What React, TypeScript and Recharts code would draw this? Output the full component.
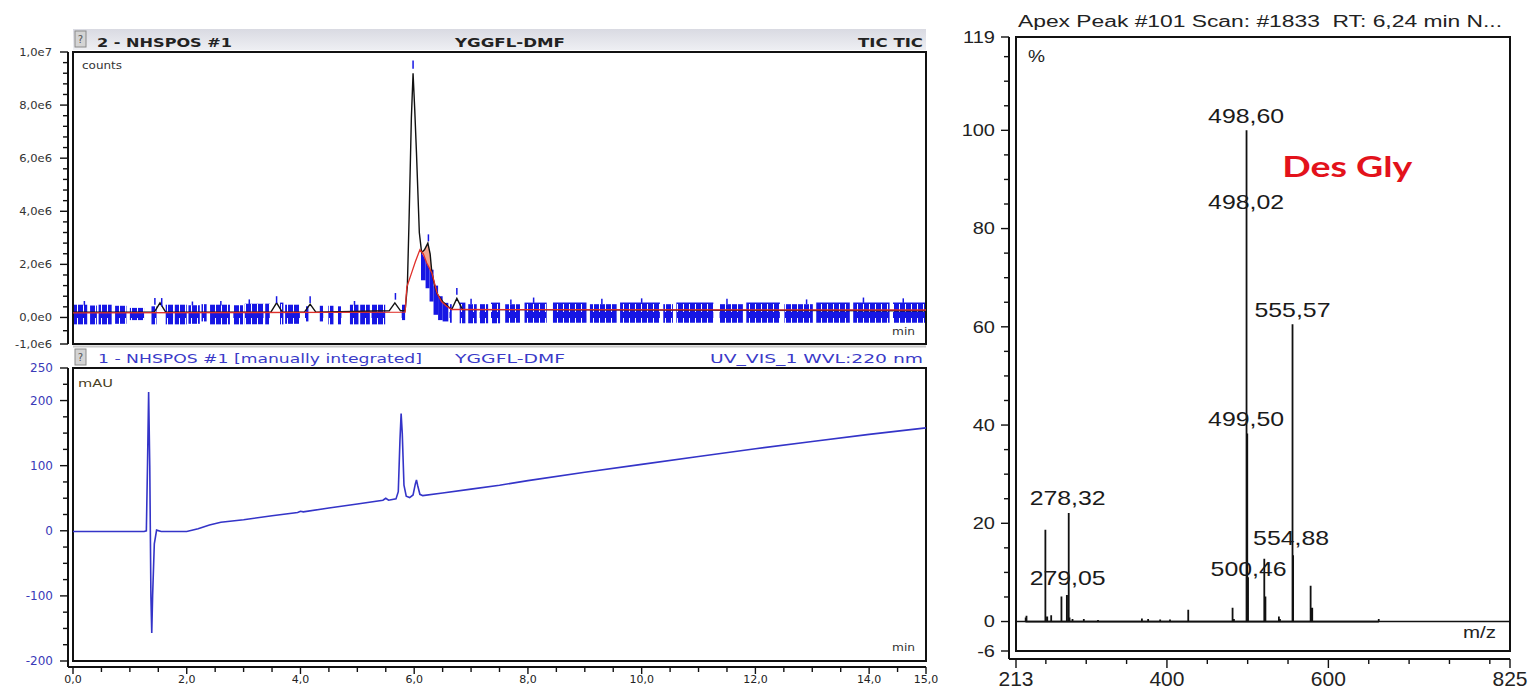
import React from "react";
import {
  ComposedChart,
  Line,
  Area,
  Scatter,
  XAxis,
  YAxis,
  ReferenceArea,
  ReferenceLine,
} from "recharts";

// ---------- TIC panel (top left), time in min, counts ----------
const ticTime = [0, 1.43, 1.53, 1.63, 3.48, 3.58, 3.68, 4.07, 4.17, 4.27, 5.56, 5.66, 5.76, 5.84, 5.88, 5.91, 5.95, 5.98, 6.01, 6.04, 6.09, 6.13, 6.18, 6.24, 6.28, 6.31, 6.36, 6.4, 6.5, 6.6, 6.66, 6.75, 6.85, 15];
const ticCounts = [0.2, 0.2, 0.55, 0.2, 0.2, 0.55, 0.2, 0.2, 0.5, 0.2, 0.25, 0.55, 0.25, 0.25, 1.2, 3.7, 7.5, 9.2, 7.8, 6.2, 3.2, 2.45, 2.55, 2.8, 2.4, 1.7, 1.2, 0.9, 0.6, 0.4, 0.3, 0.72, 0.3, 0.25];

// red integration baseline / fitted peak
const redTime = [0, 5.84, 5.87, 5.95, 6.02, 6.1, 6.16, 6.22, 6.31, 6.4, 6.48, 6.57, 6.66, 15];
const redCounts = [0.17, 0.2, 1.15, 1.65, 2.1, 2.55, 2.4, 2.05, 1.68, 0.93, 0.6, 0.42, 0.3, 0.28];

// salmon filled area between red and black
const fillTime = [6.13, 6.18, 6.24, 6.28, 6.31, 6.34];
const fillLow = [2.42, 2.25, 1.95, 1.8, 1.68, 1.45];
const fillHigh = [2.45, 2.55, 2.8, 2.4, 1.7, 1.45];

// blue noise / integration marker blocks: [start, end, low, high] (x1e6 counts)
const noiseBlocks: [number, number, number, number][] = [
  [0.0, 0.25, -0.26, 0.48], [0.3, 0.42, -0.26, 0.45], [0.45, 0.68, -0.26, 0.48],
  [0.74, 0.94, -0.24, 0.44], [1.0, 1.25, -0.1, 0.36], [1.38, 1.47, -0.26, 0.42],
  [1.63, 1.76, -0.26, 0.48], [1.79, 2.0, -0.26, 0.48], [2.03, 2.23, -0.24, 0.46],
  [2.26, 2.35, -0.15, 0.5], [2.41, 2.76, -0.26, 0.48], [2.82, 2.99, -0.26, 0.46],
  [3.02, 3.35, -0.26, 0.52], [3.38, 3.46, -0.26, 0.52], [3.64, 3.7, -0.26, 0.56],
  [3.73, 3.99, -0.24, 0.48], [4.08, 4.14, -0.15, 0.42], [4.34, 4.4, -0.15, 0.44],
  [4.49, 4.58, -0.26, 0.44], [4.66, 4.72, -0.26, 0.42], [4.87, 5.02, -0.26, 0.48],
  [5.05, 5.22, -0.26, 0.48], [5.25, 5.49, -0.26, 0.48], [5.78, 5.84, -0.1, 0.48],
  [6.62, 6.66, -0.2, 0.5],
  [6.8, 6.9, -0.22, 0.56], [6.95, 7.1, -0.22, 0.5], [7.15, 7.3, -0.22, 0.5],
  [7.35, 7.51, -0.22, 0.56], [7.6, 7.86, -0.2, 0.5], [7.94, 8.33, -0.2, 0.56],
  [8.44, 9.03, -0.2, 0.56], [9.09, 9.56, -0.2, 0.5], [9.62, 10.32, -0.2, 0.56],
  [10.38, 10.55, -0.2, 0.5], [10.61, 11.26, -0.2, 0.56], [11.37, 11.78, -0.2, 0.5],
  [11.84, 12.43, -0.2, 0.56], [12.51, 13.01, -0.2, 0.5], [13.07, 13.66, -0.2, 0.56],
  [13.72, 14.36, -0.2, 0.56], [14.42, 15.0, -0.2, 0.56],
];

// solid blue markers along the decaying tail of the main peak: [start, end, low, high]
const tailBlocks: [number, number, number, number][] = [
  [6.12, 6.2, 1.4, 2.5], [6.2, 6.27, 1.1, 2.3], [6.27, 6.34, 0.6, 1.8],
  [6.34, 6.42, 0.1, 1.2], [6.42, 6.5, -0.1, 0.8], [6.5, 6.6, -0.15, 0.55],
];

// blue peak marker ticks: [time, from, to] (x1e6 counts)
const peakMarks: [number, number, number][] = [
  [1.44, 0.48, 0.73], [1.56, 0.42, 0.73], [3.58, 0.54, 0.8], [4.17, 0.54, 0.8],
  [5.67, 0.67, 0.92], [5.98, 9.37, 9.68], [6.25, 2.87, 3.13], [6.75, 0.86, 1.11],
  [0.2, 0.45, 0.62], [2.1, 0.45, 0.6], [2.6, 0.45, 0.62], [3.1, 0.5, 0.68],
  [4.95, 0.45, 0.62], [7.0, 0.5, 0.7], [7.7, 0.5, 0.68], [8.1, 0.55, 0.75],
  [9.3, 0.5, 0.7], [10.0, 0.55, 0.72], [11.5, 0.5, 0.7], [12.9, 0.5, 0.68],
  [13.9, 0.55, 0.75], [14.6, 0.55, 0.72],
];

const ticMajor = [1e7, 8e6, 6e6, 4e6, 2e6, 0, -1e6];
const ticMajorLabels = ["1,0e7", "8,0e6", "6,0e6", "4,0e6", "2,0e6", "0,0e0", "-1,0e6"];

// ---------- UV panel (bottom left), time in min, mAU ----------
const uvTime = [0, 0.5, 1.0, 1.25, 1.29, 1.31, 1.33, 1.35, 1.36, 1.37, 1.385, 1.4, 1.43, 1.47, 1.55, 1.8, 2.0, 2.2, 2.4, 2.6, 3.0, 3.5, 3.95, 4.0, 4.05, 4.5, 5.0, 5.45, 5.5, 5.55, 5.68, 5.72, 5.75, 5.77, 5.79, 5.82, 5.86, 5.92, 5.98, 6.02, 6.04, 6.06, 6.1, 6.15, 6.5, 7.0, 7.5, 8.0, 9.0, 10.0, 11.0, 12.0, 13.0, 14.0, 15.0];
const uvMAU = [-1, -1, -1, -1, 0, 100, 213, 100, 0, -100, -157, -100, -20, 1, -1, -1, -1, 3, 9, 13, 17, 23, 28, 30, 29, 35, 41, 47, 50, 47, 49, 60, 140, 180, 150, 70, 53, 51, 55, 72, 78, 70, 56, 54, 58, 64, 70, 77, 90, 102, 114, 126, 137, 148, 158];

const uvMajor = [250, 200, 100, 0, -100, -200];
const timeMajor = [0, 2, 4, 6, 8, 10, 12, 14, 15];

// ---------- MS spectrum (right) ----------
const msMz = [225, 226, 249.4, 251.7, 256.6, 269.3, 276.0, 278.32, 279.3, 283, 297, 314.6, 369, 376.7, 391.6, 403.8, 426.4, 481.3, 483, 498.6, 499.5, 500.46, 520.6, 522, 538.7, 540, 555.57, 556.3, 578, 580, 662.4];
const msIntensity = [0.8, 1.2, 18.7, 1.0, 1.3, 5.1, 5.4, 22.1, 0.8, 0.5, 0.5, 0.3, 0.6, 0.5, 0.4, 0.4, 2.4, 2.8, 0.5, 100, 38.3, 9, 12.8, 5.1, 1.0, 0.5, 60.5, 13.5, 7.3, 2.8, 0.5];

const msLabelText = ["498,60", "498,02", "555,57", "499,50", "278,32", "279,05", "554,88", "500,46"];
const msLabelMz = [498.1, 498.1, 555.5, 498.1, 277, 277, 553.8, 501.2];
const msLabelY = [103, 85.5, 63.6, 41.4, 25.2, 8.9, 17.1, 10.8];

const msXTicks = [213, 250, 300, 350, 400, 450, 500, 550, 600, 650, 700, 750, 800, 825];
const msXLabeled = [213, 400, 600, 825];
const msYMajor = [119, 100, 80, 60, 40, 20, 0, -6];

const steps = (a: number, b: number, s: number) => {
  const out: number[] = [];
  const n = Math.round((b - a) / s);
  for (let k = 0; k <= n; k++) out.push(Math.round((a + k * s) * 1000) / 1000);
  return out;
};

const ticData = ticTime.map((t, i) => ({ t, c: ticCounts[i] * 1e6 }));
const redData = redTime.map((t, i) => ({ t, c: redCounts[i] * 1e6 }));
const fillData = fillTime.map((t, i) => ({ t, r: [fillLow[i] * 1e6, fillHigh[i] * 1e6] }));
const uvData = uvTime.map((t, i) => ({ t, v: uvMAU[i] }));
// stick spectrum: each peak is drawn up from and back to the baseline
const msSticks = msMz.flatMap((mz, i) => [
  { mz, v: 0 },
  { mz, v: msIntensity[i] },
  { mz, v: 0 },
]);
const msLabelData = msLabelText.map((label, i) => ({ mz: msLabelMz[i], v: msLabelY[i], label }));
const desGlyData = [{ mz: 623.4, v: 92.7, label: "Des Gly" }];

const ticYTicks = [-1e6, -5e5, ...steps(0, 1e7, 4e5)];
const uvYTicks = steps(-200, 250, 25);
const timeTicks = steps(0, 15, 0.5);
const msYTicks = [-6, ...steps(0, 115, 5), 119];

const ticLabelMap = new Map(ticMajor.map((v, i) => [v, ticMajorLabels[i]]));
const uvLabelMap = new Map(uvMajor.map((v) => [v, String(v)]));
const timeLabelMap = new Map(timeMajor.map((v) => [v, v.toFixed(1).replace(".", ",")]));
const msYLabelMap = new Map(msYMajor.map((v) => [v, String(v)]));
const msXLabelMap = new Map(msXLabeled.map((v) => [v, String(v)]));

const LEFT_FONT = "'DejaVu Sans', sans-serif";
const MS_FONT = "'Liberation Sans', Arial, sans-serif";

// tick for a left axis: line outward + optional label
function LeftTick(props: any) {
  const { x, y, payload, labels, color, size, family, gap, sx } = props;
  const lab = labels.get(payload.value);
  const len = lab !== undefined ? 8 : 5;
  return (
    <g>
      <line x1={x} y1={y} x2={x - len} y2={y} stroke="#111" strokeWidth={1.4} />
      {lab !== undefined && (
        <text
          transform={`translate(${x - gap},${y}) scale(${sx},1)`}
          dy="0.36em"
          textAnchor="end"
          fontSize={size}
          fill={color}
          fontFamily={family}>
          {lab}
        </text>
      )}
    </g>
  );
}

// tick for a bottom axis
function BottomTick(props: any) {
  const { x, y, payload, labels, color, size, family, gap, longLen, shortLen } = props;
  const lab = labels.get(payload.value);
  const len = lab !== undefined ? longLen : shortLen;
  return (
    <g>
      <line x1={x} y1={y} x2={x} y2={y + len} stroke="#111" strokeWidth={1.4} />
      {lab !== undefined && (
        <text x={x} y={y + gap} textAnchor="middle" fontSize={size} fill={color} fontFamily={family}>
          {lab}
        </text>
      )}
    </g>
  );
}

function StretchText(props: any) {
  const { x, y, w, size, weight, fill, family, anchor, children } = props;
  return (
    <text
      x={x}
      y={y}
      fontSize={size}
      fontWeight={weight || "normal"}
      fill={fill}
      fontFamily={family || LEFT_FONT}
      textAnchor={anchor || "start"}
      textLength={w}
      lengthAdjust="spacingAndGlyphs"
      style={{ whiteSpace: "pre" }}>
      {children}
    </text>
  );
}

const renderPeakLabel = (p: any) => (
  <text
    x={p.cx}
    y={p.cy}
    dy="0.36em"
    textAnchor="middle"
    fontSize={21}
    fill="#1a1a1a"
    fontFamily={MS_FONT}
    textLength={76}
    lengthAdjust="spacingAndGlyphs">
    {p.payload.label}
  </text>
);

const renderDesGly = (p: any) => (
  <text
    x={p.cx}
    y={p.cy}
    dy="0.36em"
    textAnchor="middle"
    fontSize={29}
    fontWeight="bold"
    fill="#e3121b"
    fontFamily="Lato, 'Open Sans', sans-serif"
    textLength={130}
    lengthAdjust="spacingAndGlyphs">
    {p.payload.label}
  </text>
);

const BLUE = "#1616e4";

export default function App() {
  return (
    <div
      style={{
        position: "absolute",
        left: 0,
        top: 0,
        width: 1531,
        height: 690,
        background: "#fff",
        overflow: "hidden",
      }}>
      {/* shared pattern: dense blue comb used for the noise band */}
      <svg width={0} height={0} style={{ position: "absolute" }}>
        <defs>
          <pattern id="comb" x="0" y="0" width="6" height="14" patternUnits="userSpaceOnUse">
            <rect x="0" y="0" width="6" height="14" fill="#ffffff" />
            <rect x="0" y="0" width="5" height="14" fill={BLUE} />
            <rect x="5" y="4" width="1" height="6" fill={BLUE} />
          </pattern>
        </defs>
      </svg>

      {/* TIC panel */}
      <div style={{ position: "absolute", left: 0, top: 0 }}>
        <ComposedChart width={940} height={352} data={ticData} margin={{ top: 52, right: 14, bottom: 8, left: 0 }}>
          <XAxis dataKey="t" type="number" domain={[0, 15]} allowDataOverflow hide height={0} padding={{ left: 5, right: 0 }} />
          <YAxis
            type="number"
            domain={[-1e6, 1e7]}
            allowDataOverflow
            width={68}
            ticks={ticYTicks}
            interval={0}
            tickSize={0}
            tickMargin={0}
            tickLine={false}
            axisLine={{ stroke: "#111", strokeWidth: 2 }}
            tick={<LeftTick labels={ticLabelMap} color="#333" size={11} family={LEFT_FONT} gap={16} sx={1.05} />}
          />
          {noiseBlocks.map(([a, b, lo, hi], i) => (
            <ReferenceArea key={`nb-${i}`} x1={a} x2={b} y1={lo * 1e6} y2={hi * 1e6} fill="url(#comb)" fillOpacity={1} stroke="none" />
          ))}
          {tailBlocks.map(([a, b, lo, hi], i) => (
            <ReferenceArea key={`tb-${i}`} x1={a} x2={b} y1={lo * 1e6} y2={hi * 1e6} fill={BLUE} fillOpacity={1} stroke="none" />
          ))}
          <Area data={fillData} dataKey="r" type="linear" stroke="none" fill="#f2a58e" fillOpacity={1} isAnimationActive={false} />
          <Line data={ticData} dataKey="c" type="linear" stroke="#111" strokeWidth={1.4} dot={false} activeDot={false} isAnimationActive={false} />
          <Line data={redData} dataKey="c" type="linear" stroke="#e0302a" strokeWidth={1.3} dot={false} activeDot={false} isAnimationActive={false} />
          {peakMarks.map(([t, a, b], i) => (
            <ReferenceLine key={`pm-${i}`} segment={[{ x: t, y: a * 1e6 }, { x: t, y: b * 1e6 }]} stroke={BLUE} strokeWidth={1.5} />
          ))}
          <ReferenceArea x1={0} x2={15} y1={-1e6} y2={1e7} fill="none" stroke="#111" strokeWidth={2} />
        </ComposedChart>
      </div>

      {/* UV panel */}
      <div style={{ position: "absolute", left: 0, top: 346 }}>
        <ComposedChart width={940} height={344} data={uvData} margin={{ top: 22, right: 14, bottom: 0, left: 0 }}>
          <XAxis
            dataKey="t"
            type="number"
            domain={[0, 15]}
            allowDataOverflow
            height={23}
            padding={{ left: 5, right: 0 }}
            ticks={timeTicks}
            interval={0}
            tickSize={0}
            tickMargin={0}
            tickLine={false}
            axisLine={{ stroke: "#111", strokeWidth: 2 }}
            tick={<BottomTick labels={timeLabelMap} color="#222" size={11} family={LEFT_FONT} gap={16} longLen={7} shortLen={5} />}
          />
          <YAxis
            type="number"
            domain={[-200, 250]}
            allowDataOverflow
            width={68}
            padding={{ top: 0, bottom: 6 }}
            ticks={uvYTicks}
            interval={0}
            tickSize={0}
            tickMargin={0}
            tickLine={false}
            axisLine={{ stroke: "#111", strokeWidth: 2 }}
            tick={<LeftTick labels={uvLabelMap} color="#3a3ab8" size={12} family={LEFT_FONT} gap={15} sx={1} />}
          />
          <Line dataKey="v" type="linear" stroke="#3434c8" strokeWidth={1.6} dot={false} activeDot={false} isAnimationActive={false} />
          <ReferenceArea x1={0} x2={15} y1={-200} y2={250} fill="none" stroke="#111" strokeWidth={2} />
        </ComposedChart>
      </div>

      {/* MS spectrum */}
      <div style={{ position: "absolute", left: 960, top: 0 }}>
        <ComposedChart width={571} height={690} data={msSticks} margin={{ top: 37, right: 21, bottom: 0, left: 0 }}>
          <XAxis
            dataKey="mz"
            type="number"
            domain={[213, 825]}
            allowDataOverflow
            height={31}
            padding={{ left: 7, right: 0 }}
            ticks={msXTicks}
            interval={0}
            tickSize={0}
            tickMargin={0}
            tickLine={false}
            axisLine={{ stroke: "#111", strokeWidth: 2 }}
            tick={<BottomTick labels={msXLabelMap} color="#222" size={21} family={MS_FONT} gap={27} longLen={9} shortLen={5} />}
          />
          <YAxis
            type="number"
            domain={[-6, 119]}
            allowDataOverflow
            width={49}
            padding={{ top: 0, bottom: 8 }}
            ticks={msYTicks}
            interval={0}
            tickSize={0}
            tickMargin={0}
            tickLine={false}
            axisLine={{ stroke: "#111", strokeWidth: 2 }}
            tick={<LeftTick labels={msYLabelMap} color="#222" size={16} family={MS_FONT} gap={14} sx={1.25} />}
          />
          <ReferenceArea x1={213} x2={825} y1={-6} y2={119} fill="none" stroke="#111" strokeWidth={2} />
          <ReferenceLine segment={[{ x: 213, y: 0 }, { x: 825, y: 0 }]} stroke="#111" strokeWidth={1.5} />
          <Line
            dataKey="v"
            type="linear"
            stroke="#111"
            strokeWidth={1.8}
            strokeLinejoin="bevel"
            dot={false}
            activeDot={false}
            isAnimationActive={false}
          />
          <Scatter data={msLabelData} dataKey="v" shape={renderPeakLabel} isAnimationActive={false} />
          <Scatter data={desGlyData} dataKey="v" shape={renderDesGly} isAnimationActive={false} />
        </ComposedChart>
      </div>

      {/* headers and in-plot captions */}
      <svg width={1531} height={690} style={{ position: "absolute", left: 0, top: 0, pointerEvents: "none" }}>
        <defs>
          <linearGradient id="hdr" x1="0" y1="0" x2="0" y2="1">
            <stop offset="0" stopColor="#d9dae2" />
            <stop offset="1" stopColor="#eeeff3" />
          </linearGradient>
        </defs>
        <rect x={73} y={29} width={853} height={21} fill="url(#hdr)" />
        <rect x={75} y={31} width={11} height={16} fill="#d4d4d4" stroke="#8a8a8a" strokeWidth={1} />
        <text x={80.5} y={43} fontSize={10} textAnchor="middle" fill="#555" fontFamily={LEFT_FONT}>?</text>
        <StretchText x={97} y={46.5} w={135} size={12.5} weight="bold" fill="#222">2 - NHSPOS #1</StretchText>
        <StretchText x={455} y={46.5} w={110} size={12.5} weight="bold" fill="#222">YGGFL-DMF</StretchText>
        <StretchText x={858} y={46.5} w={65} size={12.5} weight="bold" fill="#222">TIC TIC</StretchText>
        <StretchText x={82} y={69} w={40} size={10} fill="#333">counts</StretchText>
        <StretchText x={892} y={335} w={23} size={10} fill="#333">min</StretchText>

        <line x1={73} y1={346.5} x2={926} y2={346.5} stroke="#c8c8c8" strokeWidth={2} />
        <rect x={75} y={349} width={11} height={16} fill="#d4d4d4" stroke="#8a8a8a" strokeWidth={1} />
        <text x={80.5} y={361} fontSize={10} textAnchor="middle" fill="#555" fontFamily={LEFT_FONT}>?</text>
        <StretchText x={98} y={363} w={324} size={13} fill="#3a3ac8">1 - NHSPOS #1 [manually integrated]</StretchText>
        <StretchText x={455} y={363} w={110} size={13} fill="#3a3ac8">YGGFL-DMF</StretchText>
        <StretchText x={710} y={363} w={213} size={13} fill="#3a3ac8">UV_VIS_1 WVL:220 nm</StretchText>
        <StretchText x={78} y={387} w={35} size={10} fill="#4a3f22">mAU</StretchText>
        <StretchText x={892} y={651} w={23} size={10} fill="#333">min</StretchText>

        <StretchText x={1018} y={26.5} w={484} size={16} fill="#222" family={MS_FONT}>
          Apex Peak #101 Scan: #1833  RT: 6,24 min N...
        </StretchText>
        <StretchText x={1028} y={61.5} w={17} size={16} fill="#222" family={MS_FONT}>%</StretchText>
        <StretchText x={1463} y={638} w={33} size={16} fill="#222" family={MS_FONT}>m/z</StretchText>
      </svg>
    </div>
  );
}
